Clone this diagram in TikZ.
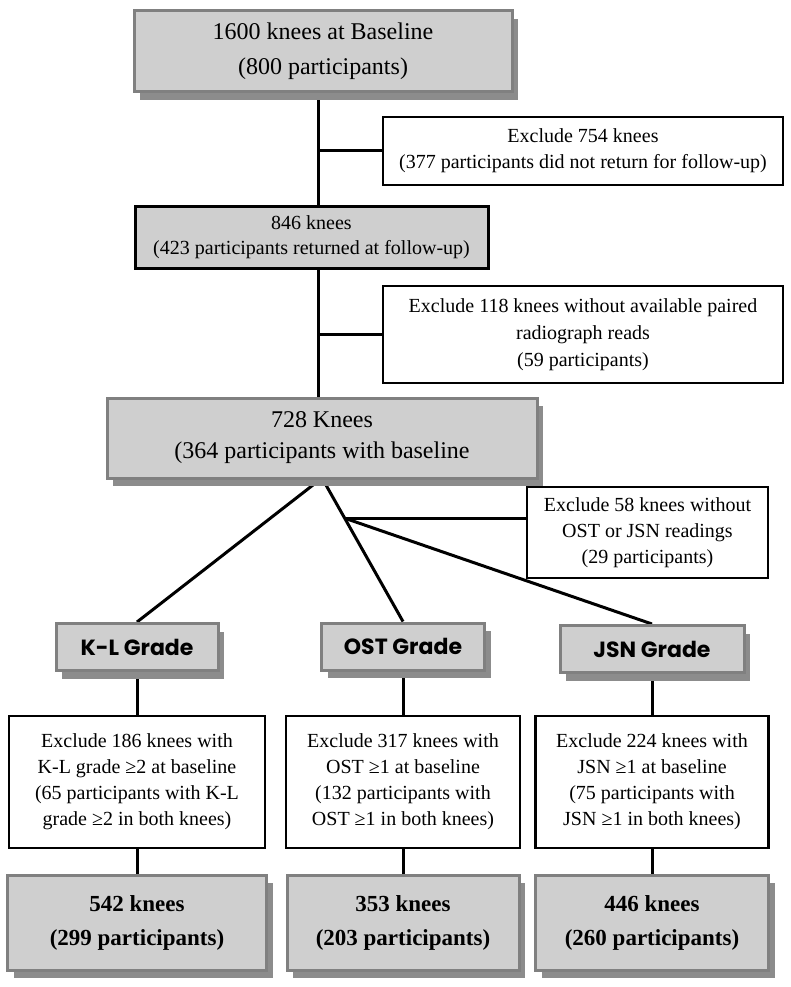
\documentclass[tikz,border=0pt]{standalone}
\usepackage{fontspec}
\setmainfont{Liberation Serif}
\newfontfamily\gradefont{Poppins}
\usetikzlibrary{shadows,backgrounds,calc}

\begin{document}
\begin{tikzpicture}[x=1pt,y=-1pt,
    graybox/.style={draw=black!50, line width=3pt, fill=black!19, align=center, inner sep=0pt,
      drop shadow={shadow xshift=6pt, shadow yshift=-8pt, fill=black!45, opacity=1}},
    followbox/.style={draw=black, line width=3pt, fill=black!19, align=center, inner sep=0pt},
    exclbox/.style={draw=black, line width=2.5pt, fill=white, align=center, inner sep=0pt,
      font=\fontsize{20}{26}\selectfont},
    gradebox/.style={graybox, minimum height=47pt, font=\gradefont\bfseries\fontsize{22}{26}\selectfont},
    finalbox/.style={graybox, minimum height=95pt, font=\bfseries\fontsize{23}{34}\selectfont},
    link/.style={line width=3pt}]
  \useasboundingbox (0,0) rectangle (791,987);

  % top part
  \node[graybox, minimum width=378pt, minimum height=81pt, font=\fontsize{24}{35}\selectfont]
    (base) at (323,51.5) {1600 knees at Baseline\\(800 participants)};
  \node[exclbox, minimum width=400pt, minimum height=68pt]
    (excl754) at (583,151) {Exclude 754 knees\\(377 participants did not return for follow-up)};
  \node[followbox, minimum width=353pt, minimum height=62pt, font=\fontsize{20}{25}\selectfont]
    (fu) at (311.5,237.5) {846 knees\\(423 participants returned at follow-up)};
  \node[exclbox, minimum width=400pt, minimum height=97pt, font=\fontsize{20}{27}\selectfont]
    (excl118) at (583,334.5) {Exclude 118 knees without available paired\\radiograph reads\\(59 participants)};
  \node[graybox, minimum width=430pt, minimum height=80pt, font=\fontsize{24}{31}\selectfont]
    (k728) at (322,438) {728 Knees\\(364 participants with baseline};
  \node[exclbox, minimum width=241pt, minimum height=91pt]
    (excl58) at (647.5,532.5) {Exclude 58 knees without\\OST or JSN readings\\(29 participants)};

  % grades
  \node[gradebox, minimum width=162pt] (kl) at (137,647) {K-L Grade};
  \node[gradebox, minimum width=163pt] (ost) at (403,646.5) {OST Grade};
  \node[gradebox, minimum width=184pt] (jsn) at (652,649) {JSN Grade};

  \node[exclbox, minimum width=256pt, minimum height=132pt] (exkl) at (137,782)
    {Exclude 186 knees with\\K-L grade ≥2 at baseline\\(65 participants with K-L\\grade ≥2 in both knees)};
  \node[exclbox, minimum width=234pt, minimum height=132pt] (exost) at (403,782)
    {Exclude 317 knees with\\OST ≥1 at baseline\\(132 participants with\\OST ≥1 in both knees)};
  \node[exclbox, minimum width=233pt, minimum height=132pt] (exjsn) at (652,782)
    {Exclude 224 knees with\\JSN ≥1 at baseline\\(75 participants with\\JSN ≥1 in both knees)};

  \node[finalbox, minimum width=259pt] (fkl) at (137,922.5) {542 knees\\(299 participants)};
  \node[finalbox, minimum width=232pt] (fost) at (403,922.5) {353 knees\\(203 participants)};
  \node[finalbox, minimum width=233pt] (fjsn) at (652,922.5) {446 knees\\(260 participants)};

  \coordinate (t1) at (318,151);
  \coordinate (t2) at (318,334.5);
  \coordinate (split) at (322,478);
  \coordinate (jn) at ($(split)!0.28!(ost.north)$);

  \begin{scope}[on background layer]
    \fill[white] (0,0) rectangle (791,987);
    \begin{scope}[link]
      \draw (base.south -| t1) -- (fu.north -| t1);
      \draw (fu.south -| t2) -- (k728.north -| t2);
      \draw (t1) -- (excl754);
      \draw (t2) -- (excl118);
      \draw (split) -- (kl.north);
      \draw (split) -- (ost.north);
      \draw (jn) -- (jsn.north);
      \draw (jn) -- (jn -| excl58.west);
      \draw (kl) -- (exkl);
      \draw (ost) -- (exost);
      \draw (jsn) -- (exjsn);
      \draw (exkl) -- (fkl);
      \draw (exost) -- (fost);
      \draw (exjsn) -- (fjsn);
    \end{scope}
  \end{scope}
\end{tikzpicture}
\end{document}
